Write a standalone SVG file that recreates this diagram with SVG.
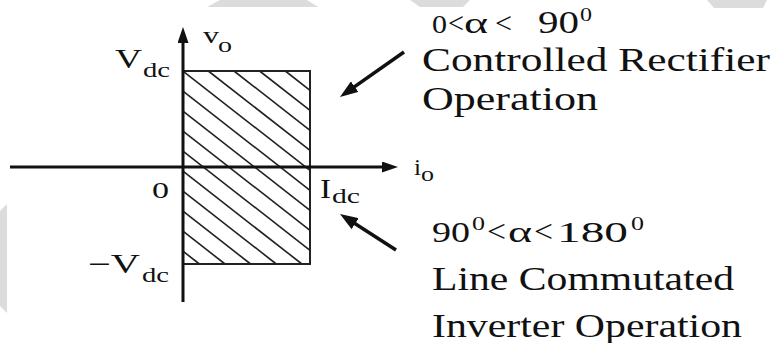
<svg xmlns="http://www.w3.org/2000/svg" width="773" height="343" viewBox="0 0 773 343">
<style>
.t{font-family:"Liberation Serif","Times New Roman",serif;fill:#111}
.ax{stroke:#111;stroke-width:3;fill:none}
.box{stroke:#222;stroke-width:2;fill:none}
.h{stroke:#222;stroke-width:1.6}
.ptr{stroke:#111;stroke-width:3.5}
.wm{fill:#dcdcdc}
</style>
<defs>
<marker id="axHead" viewBox="0 0 16 11" refX="8" refY="5.5" markerWidth="16" markerHeight="11" markerUnits="userSpaceOnUse" orient="auto">
<path d="M0,0 L16,5.5 L0,11 z" fill="#111"/>
</marker>
<marker id="ptrHead" viewBox="0 0 18 13" refX="10" refY="6.5" markerWidth="18" markerHeight="13" markerUnits="userSpaceOnUse" orient="auto">
<path d="M0,0 L18,6.5 L0,13 z" fill="#111"/>
</marker>
</defs>
<rect width="773" height="343" fill="#fff"/>
<g id="watermark">
<polygon class="wm" points="220,0 307,0 318,7 207,7"/>
<polygon class="wm" points="410,0 470,0 463,7 420,7"/>
<polygon class="wm" points="707,0 767,0 763,8 714,8"/>
<polygon class="wm" points="0,211 7,204 7,313 0,306"/>
</g>
<g id="region">
<rect class="box" x="183" y="71" width="127" height="193"/>
<g id="hatch">
<line class="h" x1="285.3" y1="71" x2="310" y2="90.3"/>
<line class="h" x1="259.6" y1="71" x2="310" y2="110.3"/>
<line class="h" x1="234" y1="71" x2="310" y2="130.3"/>
<line class="h" x1="208.3" y1="71" x2="310" y2="150.3"/>
<line class="h" x1="183" y1="71.2" x2="310" y2="170.3"/>
<line class="h" x1="183" y1="91.2" x2="310" y2="190.3"/>
<line class="h" x1="183" y1="111.2" x2="310" y2="210.3"/>
<line class="h" x1="183" y1="131.2" x2="310" y2="230.3"/>
<line class="h" x1="183" y1="151.2" x2="310" y2="250.3"/>
<line class="h" x1="183" y1="171.2" x2="301.9" y2="264"/>
<line class="h" x1="183" y1="191.2" x2="276.3" y2="264"/>
<line class="h" x1="183" y1="211.2" x2="250.6" y2="264"/>
<line class="h" x1="183" y1="231.2" x2="225" y2="264"/>
<line class="h" x1="183" y1="251.2" x2="199.4" y2="264"/>
</g>
</g>
<g id="connectors">
<line id="v-axis" class="ax" x1="183" y1="302" x2="183" y2="35" marker-end="url(#axHead)"/>
<line id="i-axis" class="ax" x1="10" y1="167" x2="390" y2="167" marker-end="url(#axHead)"/>
<line id="ptr-upper" class="ptr" x1="404" y1="52" x2="346.5" y2="92.4" marker-end="url(#ptrHead)"/>
<line id="ptr-lower" class="ptr" x1="396" y1="250" x2="346.7" y2="218.3" marker-end="url(#ptrHead)"/>
</g>
<g id="axis-labels">
<text class="t" x="203" y="43" font-size="24" textLength="16" lengthAdjust="spacingAndGlyphs">v</text>
<text class="t" x="218" y="52" font-size="22" textLength="14" lengthAdjust="spacingAndGlyphs">o</text>
<text class="t" x="115" y="68" font-size="27" textLength="27" lengthAdjust="spacingAndGlyphs">V</text>
<text class="t" x="143" y="77" font-size="22" textLength="27" lengthAdjust="spacingAndGlyphs">dc</text>
<text class="t" x="152" y="198" font-size="24" textLength="17" lengthAdjust="spacingAndGlyphs">0</text>
<text class="t" x="320" y="198" font-size="28" textLength="11" lengthAdjust="spacingAndGlyphs">I</text>
<text class="t" x="332" y="203" font-size="22" textLength="28" lengthAdjust="spacingAndGlyphs">dc</text>
<text class="t" x="88" y="273" font-size="27" textLength="52" lengthAdjust="spacingAndGlyphs">−V</text>
<text class="t" x="142" y="282" font-size="22" textLength="27" lengthAdjust="spacingAndGlyphs">dc</text>
<text class="t" x="414" y="175" font-size="24" textLength="7" lengthAdjust="spacingAndGlyphs">i</text>
<text class="t" x="421" y="181" font-size="22" textLength="13" lengthAdjust="spacingAndGlyphs">o</text>
</g>
<g id="rectifier-note">
<text class="t" x="432" y="33" font-size="25" textLength="15" lengthAdjust="spacingAndGlyphs">0</text>
<text class="t" x="448" y="33" font-size="30" textLength="16" lengthAdjust="spacingAndGlyphs">&lt;</text>
<text class="t" x="464" y="33" font-size="29" textLength="24" lengthAdjust="spacingAndGlyphs">α</text>
<text class="t" x="495" y="33" font-size="30" textLength="17" lengthAdjust="spacingAndGlyphs">&lt;</text>
<text class="t" x="538" y="33" font-size="31" textLength="41" lengthAdjust="spacingAndGlyphs">90</text>
<text class="t" x="580" y="21" font-size="18" textLength="12" lengthAdjust="spacingAndGlyphs">0</text>
<text class="t" x="422" y="71" font-size="34" textLength="348" lengthAdjust="spacingAndGlyphs">Controlled Rectifier</text>
<text class="t" x="422" y="110" font-size="34" textLength="176" lengthAdjust="spacingAndGlyphs">Operation</text>
</g>
<g id="inverter-note">
<text class="t" x="432" y="242" font-size="29" textLength="38" lengthAdjust="spacingAndGlyphs">90</text>
<text class="t" x="472" y="230" font-size="19" textLength="13" lengthAdjust="spacingAndGlyphs">0</text>
<text class="t" x="487" y="242" font-size="31" textLength="19" lengthAdjust="spacingAndGlyphs">&lt;</text>
<text class="t" x="508" y="242" font-size="29" textLength="24" lengthAdjust="spacingAndGlyphs">α</text>
<text class="t" x="534" y="242" font-size="31" textLength="19" lengthAdjust="spacingAndGlyphs">&lt;</text>
<text class="t" x="557" y="242" font-size="29" textLength="71" lengthAdjust="spacingAndGlyphs">180</text>
<text class="t" x="631" y="230" font-size="19" textLength="13" lengthAdjust="spacingAndGlyphs">0</text>
<text class="t" x="432" y="290" font-size="34" textLength="302" lengthAdjust="spacingAndGlyphs">Line Commutated</text>
<text class="t" x="432" y="337" font-size="34" textLength="310" lengthAdjust="spacingAndGlyphs">Inverter Operation</text>
</g>
</svg>
